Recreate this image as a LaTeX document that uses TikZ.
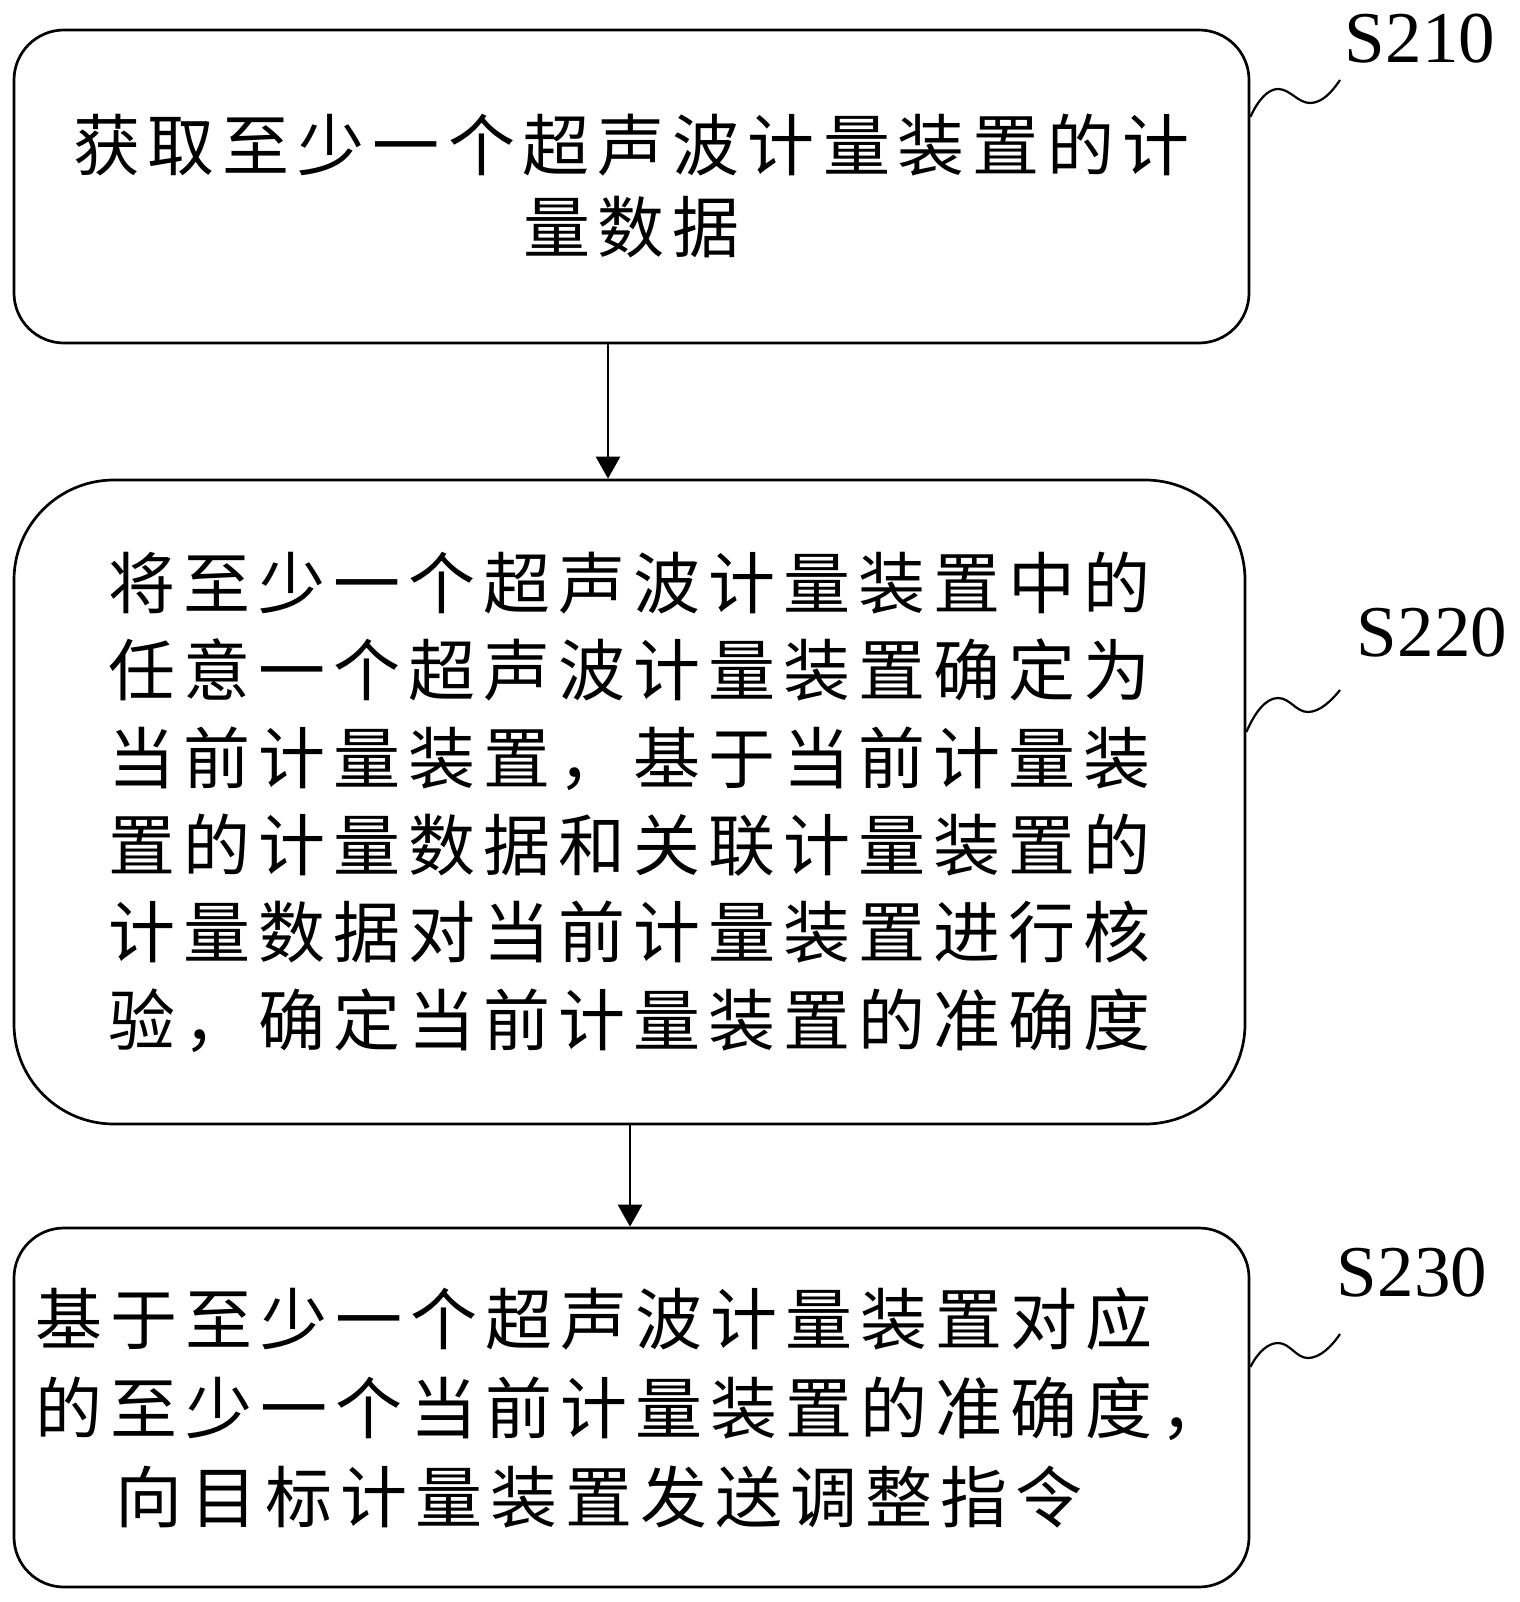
\documentclass[tikz,border=0pt]{standalone}
\usepackage{fontspec}
\setmainfont{Liberation Serif}
\newfontfamily\cjk{Noto Sans CJK SC}
\usetikzlibrary{arrows.meta}
\def\cjloop#1{\ifx#1\relax\else\makebox[75pt][c]{#1}\expandafter\cjloop\fi}
\newcommand\cjs[1]{\cjloop#1\relax}
\begin{document}
\begin{tikzpicture}[x=1pt,y=-1pt,
  box/.style={draw,line width=2.7pt,inner sep=0pt},
  arr/.style={line width=2.7pt,-{Triangle[width=24pt,length=22pt]}},
  lbl/.style={font=\fontsize{73}{80}\selectfont,inner sep=0pt},
  wave/.style={line width=2.2pt}]
\useasboundingbox (0,0) rectangle (1519,1602);
\node[box,rounded corners=50pt,minimum width=1235pt,minimum height=313pt,align=center,
  font=\cjk\fontsize{67}{82}\selectfont] (b1) at (631.5,186.5)
  {\cjs{获取至少一个超声波计量装置的计}\\\cjs{量数据}};
\node[box,rounded corners=100pt,minimum width=1231pt,minimum height=644pt,align=left,
  font=\cjk\fontsize{67}{87.4}\selectfont] (b2) at (629.5,802)
  {\cjs{将至少一个超声波计量装置中的}\\\cjs{任意一个超声波计量装置确定为}\\\cjs{当前计量装置，基于当前计量装}\\\cjs{置的计量数据和关联计量装置的}\\\cjs{计量数据对当前计量装置进行核}\\\cjs{验，确定当前计量装置的准确度}};
\node[box,rounded corners=50pt,minimum width=1235pt,minimum height=359pt,align=left,
  font=\cjk\fontsize{67}{89}\selectfont] (b3) at (631.5,1407.5)
  {\cjs{基于至少一个超声波计量装置对应}\\\cjs{的至少一个当前计量装置的准确度，}\\\hspace*{80pt}\cjs{向目标计量装置发送调整指令}};
\coordinate (c1) at (608,0);
\coordinate (c2) at (630,0);
\draw[arr] (b1.south -| c1) -- (b2.north -| c1);
\draw[arr] (b2.south -| c2) -- (b3.north -| c2);
\node[lbl] (l1) at (1420,39) {S210};
\node[lbl] (l2) at (1432,633) {S220};
\node[lbl] (l3) at (1412,1273) {S230};
\coordinate (w1) at (0,117);
\coordinate (w2) at (0,732);
\coordinate (w3) at (0,1367);
\coordinate (e1) at (1340,80);
\coordinate (e2) at (1340,690);
\coordinate (e3) at (1340,1334);
\draw[wave] (b1.east |- w1) .. controls (1258,100) and (1268,89) .. (1278,89)
  .. controls (1290,89) and (1298,103) .. (1310,103)
  .. controls (1322,103) and (1332,92) .. (e1);
\draw[wave] (b2.east |- w2) .. controls (1255,712) and (1266,698) .. (1278,698)
  .. controls (1290,698) and (1296,712) .. (1308,712)
  .. controls (1320,712) and (1332,700) .. (e2);
\draw[wave] (b3.east |- w3) .. controls (1258,1352) and (1268,1343) .. (1278,1343)
  .. controls (1290,1343) and (1296,1358) .. (1308,1358)
  .. controls (1320,1358) and (1332,1346) .. (e3);
\end{tikzpicture}
\end{document}
